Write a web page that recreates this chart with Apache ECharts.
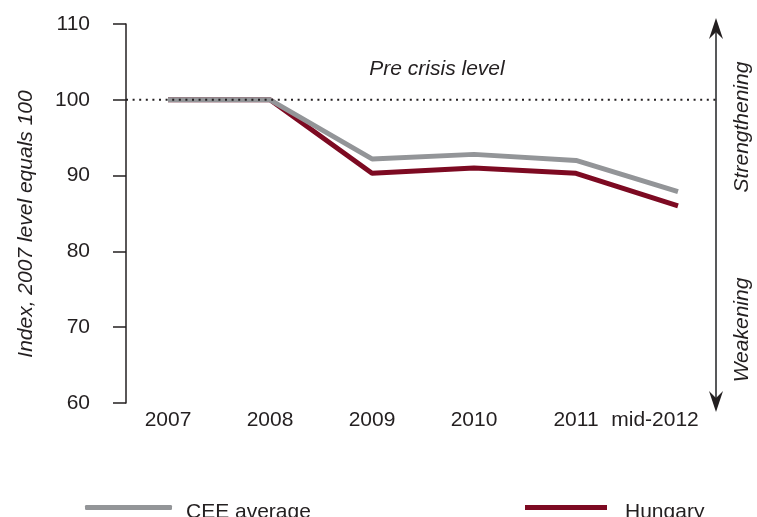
<!DOCTYPE html>
<html>
<head>
<meta charset="utf-8">
<title>Index, 2007 level equals 100</title>
<script src="https://cdn.jsdelivr.net/npm/echarts@6/dist/echarts.min.js"></script>
<style>
  html, body { margin: 0; padding: 0; background: #ffffff; }
  #chart { width: 757px; height: 517px; }
</style>
</head>
<body>
<div id="chart"></div>
<script>
// Periods on the horizontal axis
const categories = ['2007', '2008', '2009', '2010', '2011', 'mid-2012'];
// Index values, 2007 = 100
const ceeAverage = [100, 100, 92.2, 92.8, 92.0, 87.9];
const hungary = [100, 100, 90.3, 91.0, 90.3, 86.0];
// Pre-crisis reference level
const preCrisisLevel = 100;
// Y axis range and step
const yMin = 60, yMax = 110, yStep = 10;

const FONT = "'Liberation Sans', Arial, Helvetica, sans-serif";
const FS = 21;
const INK = '#231f20';
const GREY = '#939598';
const MAROON = '#7d0a22';

// legend label sits slightly below its swatch
const legendText = (gap) => ({
  fontFamily: FONT, fontSize: FS, color: INK, padding: [0, 0, 0, gap],
  rich: { t: { fontFamily: FONT, fontSize: FS, color: INK, padding: [10, 0, 0, 0] } }
});

const chart = echarts.init(document.getElementById('chart'), null, { renderer: 'canvas' });

const option = {
  backgroundColor: '#ffffff',
  animation: false,
  textStyle: { fontFamily: FONT },
  grid: [
    // full plot frame (y axis + reference line)
    { left: 126, right: 41, top: 24, bottom: 114 },
    // data area
    { left: 168, right: 79, top: 24, bottom: 114 }
  ],
  legend: [
    {
      data: ['CEE average'],
      left: 85, top: 502, padding: 0,
      icon: 'roundRect', itemWidth: 87, itemHeight: 5,
      formatter: n => '{t|' + n + '}',
      textStyle: legendText(9)
    },
    {
      data: ['Hungary'],
      left: 525, top: 502, padding: 0,
      icon: 'rect', itemWidth: 82, itemHeight: 5,
      formatter: n => '{t|' + n + '}',
      textStyle: legendText(13)
    }
  ],
  xAxis: [
    { gridIndex: 0, type: 'value', min: 0, max: 1, show: false },
    {
      gridIndex: 1, type: 'category', data: categories, boundaryGap: false,
      axisLine: { show: false }, axisTick: { show: false }, splitLine: { show: false },
      axisLabel: {
        interval: 0, margin: 7, fontSize: FS, color: INK, fontFamily: FONT,
        formatter: v => v.startsWith('mid') ? '{m|' + v + '}' : v,
        rich: { m: { fontSize: FS, color: INK, fontFamily: FONT, padding: [0, 46, 0, 0] } }
      }
    }
  ],
  yAxis: [
    {
      gridIndex: 0, type: 'value', min: yMin, max: yMax, interval: yStep,
      name: 'Index, 2007 level equals 100',
      nameLocation: 'middle', nameGap: 89, nameRotate: 90,
      nameTextStyle: { fontStyle: 'italic', fontSize: FS, color: INK, fontFamily: FONT, padding: [0, 21, 0, 0] },
      axisLine: { show: true, lineStyle: { color: INK, width: 1.5 } },
      axisTick: { show: true, length: 13, lineStyle: { color: INK, width: 1.5 } },
      axisLabel: { margin: 36, fontSize: FS, color: INK, fontFamily: FONT },
      splitLine: { show: false }
    },
    { gridIndex: 1, type: 'value', min: yMin, max: yMax, interval: yStep, show: false }
  ],
  series: [
    {
      name: 'Hungary', type: 'line', xAxisIndex: 1, yAxisIndex: 1,
      data: hungary, symbol: 'none', z: 2,
      lineStyle: { color: MAROON, width: 5 }, itemStyle: { color: MAROON }
    },
    {
      name: 'CEE average', type: 'line', xAxisIndex: 1, yAxisIndex: 1,
      data: ceeAverage, symbol: 'none', z: 3,
      lineStyle: { color: GREY, width: 5 }, itemStyle: { color: GREY }
    },
    {
      name: 'Pre crisis level', type: 'line', xAxisIndex: 0, yAxisIndex: 0,
      data: [[0, preCrisisLevel], [1, preCrisisLevel]], symbol: 'none', z: 4,
      lineStyle: { color: INK, width: 2, type: [2, 4.6] }, silent: true
    }
  ],
  graphic: [
    {
      type: 'text', x: 437, y: 69,
      style: { text: 'Pre crisis level', font: 'italic ' + FS + 'px ' + FONT, fill: INK, align: 'center', verticalAlign: 'middle' }
    },
    // strengthening / weakening arrow
    {
      type: 'line', shape: { x1: 716, y1: 30, x2: 716, y2: 400 },
      style: { stroke: '#58595b', lineWidth: 2 }
    },
    {
      type: 'polygon', shape: { points: [[716, 18], [723, 39], [716, 32], [709, 39]] },
      style: { fill: INK }
    },
    {
      type: 'polygon', shape: { points: [[716, 412], [723, 391], [716, 398], [709, 391]] },
      style: { fill: INK }
    },
    {
      type: 'text', x: 742, y: 127, rotation: Math.PI / 2,
      style: { text: 'Strengthening', font: 'italic ' + FS + 'px ' + FONT, fill: INK, align: 'center', verticalAlign: 'middle' }
    },
    {
      type: 'text', x: 742, y: 330, rotation: Math.PI / 2,
      style: { text: 'Weakening', font: 'italic ' + FS + 'px ' + FONT, fill: INK, align: 'center', verticalAlign: 'middle' }
    }
  ]
};

chart.setOption(option);
</script>
</body>
</html>
